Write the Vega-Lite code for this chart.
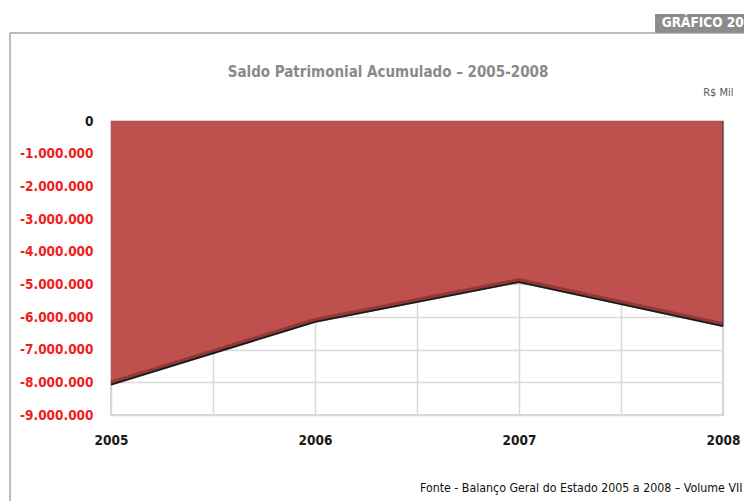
{
  "$schema": "https://vega.github.io/schema/vega-lite/v6.json",
  "width": 612,
  "height": 294,
  "autosize": {"type": "none"},
  "padding": {"left": 111, "top": 121, "right": 21, "bottom": 86},
  "background": "white",
  "config": {
    "locale": {"number": {"decimal": ",", "thousands": ".", "grouping": [3], "currency": ["R$ ", ""], "minus": "-"}},
    "view": {"stroke": "#c8c8c8", "strokeWidth": 1.5},
    "font": "DejaVu Sans Condensed"
  },
  "title": {
    "text": "Saldo Patrimonial Acumulado – 2005-2008",
    "anchor": "middle",
    "frame": "group",
    "dx": -29,
    "offset": -66,
    "fontSize": 15,
    "fontWeight": "bold",
    "color": "#8a8a8a",
    "font": "DejaVu Sans Condensed"
  },
  "data": {
    "values": [
      {"ano": 2005, "saldo": -8070000},
      {"ano": 2006, "saldo": -6150000},
      {"ano": 2007, "saldo": -4930000},
      {"ano": 2008, "saldo": -6280000}
    ]
  },
  "layer": [
    {
      "mark": {"type": "area", "color": "#C0504D", "opacity": 1},
      "encoding": {
        "x": {
          "field": "ano",
          "type": "quantitative",
          "scale": {"domain": [2005, 2008], "nice": false, "zero": false},
          "axis": {
            "values": [2005, 2005.5, 2006, 2006.5, 2007, 2007.5, 2008],
            "tickCount": 20,
            "labelExpr": "datum.value % 1 == 0 ? format(datum.value, 'd') : ''",
            "labelFontSize": 13.5,
            "labelFontWeight": "bold",
            "labelColor": "#1a1a1a",
            "labelPadding": 18,
            "labelFlush": false,
            "labelOverlap": false,
            "ticks": false,
            "domain": false,
            "grid": true,
            "gridColor": "#d9d9d9",
            "gridWidth": 1.5,
            "title": "Fonte - Balanço Geral do Estado 2005 a 2008 – Volume VII",
            "titleFontSize": 12.3,
            "titleFontWeight": "normal",
            "titleColor": "#111111",
            "titleX": 631,
            "titleY": 76,
            "titleAlign": "right",
            "titleBaseline": "alphabetic"
          }
        },
        "y": {
          "field": "saldo",
          "type": "quantitative",
          "scale": {"domain": [-9000000, 0], "nice": false},
          "axis": {
            "values": [0, -1000000, -2000000, -3000000, -4000000, -5000000, -6000000, -7000000, -8000000, -9000000],
            "tickCount": 20,
            "format": ",d",
            "labelColor": {"condition": {"test": "datum.value == 0", "value": "#1a1a1a"}, "value": "#f01e1e"},
            "labelFontSize": 13.5,
            "labelFontWeight": "bold",
            "labelPadding": 18,
            "labelOverlap": false,
            "ticks": false,
            "domain": false,
            "grid": true,
            "gridColor": "#d9d9d9",
            "gridWidth": 1.5,
            "title": "R$ Mil",
            "titleAngle": 0,
            "titleX": 622,
            "titleY": -29,
            "titleAlign": "right",
            "titleBaseline": "middle",
            "titleFontSize": 11,
            "titleFontWeight": "normal",
            "titleColor": "#595959"
          }
        }
      }
    },
    {
      "mark": {"type": "line", "color": "#3a0f0f", "strokeWidth": 5, "opacity": 0.35, "yOffset": -1.5},
      "encoding": {
        "x": {"field": "ano", "type": "quantitative"},
        "y": {"field": "saldo", "type": "quantitative"}
      }
    },
    {
      "mark": {"type": "line", "color": "#1a1a1a", "strokeWidth": 1.8},
      "encoding": {
        "x": {"field": "ano", "type": "quantitative"},
        "y": {"field": "saldo", "type": "quantitative"}
      }
    },
    {
      "transform": [{"filter": "datum.ano == 2008"}],
      "mark": {"type": "rule", "color": "#333333", "strokeWidth": 1.5, "opacity": 0.7},
      "encoding": {
        "x": {"field": "ano", "type": "quantitative"},
        "y": {"field": "saldo", "type": "quantitative"},
        "y2": {"datum": 0}
      }
    },
    {
      "data": {"values": [{}]},
      "mark": {"type": "rule", "color": "#a6a6a6", "strokeWidth": 1.5},
      "encoding": {
        "x": {"datum": 2004.505, "type": "quantitative"},
        "x2": {"datum": 2008.2},
        "y": {"datum": 2694000, "type": "quantitative"}
      }
    },
    {
      "data": {"values": [{}]},
      "mark": {"type": "rule", "color": "#a6a6a6", "strokeWidth": 1.5},
      "encoding": {
        "x": {"datum": 2004.505, "type": "quantitative"},
        "y": {"datum": 2694000, "type": "quantitative"},
        "y2": {"datum": -11630000}
      }
    },
    {
      "data": {"values": [{}]},
      "mark": {"type": "rect", "color": "#8c8c8c"},
      "encoding": {
        "x": {"datum": 2007.667, "type": "quantitative"},
        "x2": {"datum": 2008.3},
        "y": {"datum": 3275000, "type": "quantitative"},
        "y2": {"datum": 2700000}
      }
    },
    {
      "data": {"values": [{"t": "GRÁFICO 20"}]},
      "mark": {"type": "text", "color": "white", "fontWeight": "bold", "fontSize": 13.5, "align": "left", "baseline": "middle", "font": "DejaVu Sans Condensed"},
      "encoding": {
        "x": {"datum": 2007.7, "type": "quantitative"},
        "y": {"datum": 2990000, "type": "quantitative"},
        "text": {"field": "t", "type": "nominal"}
      }
    }
  ]
}
